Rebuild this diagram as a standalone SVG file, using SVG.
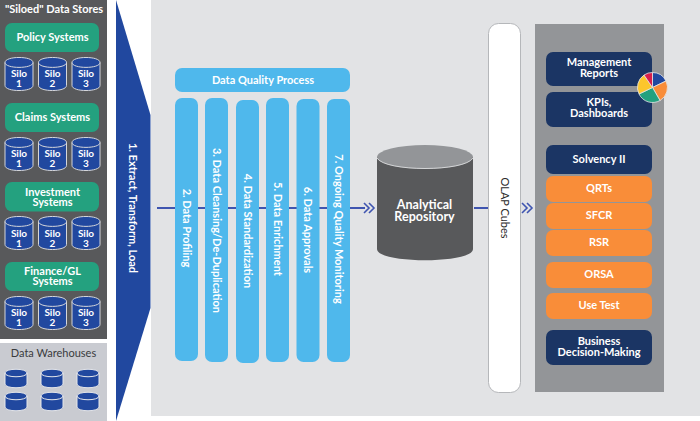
<svg xmlns="http://www.w3.org/2000/svg" width="700" height="421" viewBox="0 0 700 421">
<style>
text{font-family:Lato,"Noto Sans","Liberation Sans",sans-serif;font-weight:700;fill:#fff;text-anchor:middle}
.s{font-size:10px}.m{font-size:11px}
.gr{fill:#24a17f}.cy{fill:#4fb8ec}.nv{fill:#1b3564}.or{fill:#f98d39}
.sil{fill:#21489f;stroke:#d5d6da;stroke-width:1}
.wh{fill:#21489f;stroke:#e6e7ea;stroke-width:1}
.ln{stroke:#3f55b0;stroke-width:2;fill:none}
.ch{stroke:#3f55b0;stroke-width:1.6;fill:none}
</style>
<defs>
<g id="silo"><path class="sil" d="M0 5.500C0 -1.200 28 -1.200 28 5.500V28.500C28 35.200 0 35.200 0 28.500Z"/><path class="sil" style="fill:none" d="M0 5.500C0 12 28 12 28 5.500"/></g>
<g id="wh"><path class="wh" d="M0 4C0 -1 22 -1 22 4V15C22 20 0 20 0 15Z"/><path class="wh" style="fill:none" d="M0 4C0 9 22 9 22 4"/></g>
<g id="chev"><path class="ch" d="M0 -5L5 0L0 5M5 -5L10 0L5 5"/></g>
</defs>
<rect id="bg-main" x="151" y="0" width="549" height="416" fill="#e2e3e5"/>
<g id="siloed-panel">
<rect x="0" y="0" width="107" height="339" fill="#58595b"/>
<text x="54" y="13" class="m">"Siloed" Data Stores</text>
</g>
<g id="policy"><rect class="gr" x="5" y="23" width="94" height="29" rx="7"/><text x="52.500" y="40.500" class="m">Policy Systems</text></g>
<g id="claims"><rect class="gr" x="5" y="103" width="94" height="29" rx="7"/><text x="52.500" y="120.500" class="m">Claims Systems</text></g>
<g id="investment"><rect class="gr" x="5" y="182" width="94" height="29.500" rx="7"/><text x="52.500" y="195.500" class="m">Investment</text><text x="52.500" y="205.500" class="m">Systems</text></g>
<g id="finance"><rect class="gr" x="5" y="262" width="94" height="29" rx="7"/><text x="52.500" y="275" class="m">Finance/GL</text><text x="52.500" y="284.500" class="m">Systems</text></g>
<g id="silos-policy">
<use href="#silo" x="5" y="57"/><use href="#silo" x="38.500" y="57"/><use href="#silo" x="72" y="57"/>
<text x="19" y="77" class="s">Silo</text><text x="19" y="87" class="s">1</text><text x="52.500" y="77" class="s">Silo</text><text x="52.500" y="87" class="s">2</text><text x="86" y="77" class="s">Silo</text><text x="86" y="87" class="s">3</text>
</g>
<g id="silos-claims">
<use href="#silo" x="5" y="137"/><use href="#silo" x="38.500" y="137"/><use href="#silo" x="72" y="137"/>
<text x="19" y="157" class="s">Silo</text><text x="19" y="167" class="s">1</text><text x="52.500" y="157" class="s">Silo</text><text x="52.500" y="167" class="s">2</text><text x="86" y="157" class="s">Silo</text><text x="86" y="167" class="s">3</text>
</g>
<g id="silos-investment">
<use href="#silo" x="5" y="216"/><use href="#silo" x="38.500" y="216"/><use href="#silo" x="72" y="216"/>
<text x="19" y="237" class="s">Silo</text><text x="19" y="247" class="s">1</text><text x="52.500" y="237" class="s">Silo</text><text x="52.500" y="247" class="s">2</text><text x="86" y="237" class="s">Silo</text><text x="86" y="247" class="s">3</text>
</g>
<g id="silos-finance">
<use href="#silo" x="5" y="296"/><use href="#silo" x="38.500" y="296"/><use href="#silo" x="72" y="296"/>
<text x="19" y="316" class="s">Silo</text><text x="19" y="326" class="s">1</text><text x="52.500" y="316" class="s">Silo</text><text x="52.500" y="326" class="s">2</text><text x="86" y="316" class="s">Silo</text><text x="86" y="326" class="s">3</text>
</g>
<g id="warehouses">
<rect x="0" y="343" width="107" height="78" fill="#c9cbd1"/>
<text x="53.500" y="357" class="m" style="fill:#3a3b3d;font-weight:400">Data Warehouses</text>
<use href="#wh" x="5" y="369"/><use href="#wh" x="41" y="369"/><use href="#wh" x="77" y="369"/>
<use href="#wh" x="5" y="392"/><use href="#wh" x="41" y="392"/><use href="#wh" x="77" y="392"/>
</g>
<g id="connectors">
<path class="ln" d="M157 208H365"/>
<use href="#chev" x="364" y="208"/>
<path class="ln" d="M474 208H488"/>
<use href="#chev" x="522" y="208"/>
</g>
<g id="etl">
<path d="M116 0L150.500 115V308L116 421Z" fill="#21489f"/>
<text transform="translate(129 208) rotate(90)" class="m">1. Extract, Transform, Load</text>
</g>
<g id="dq-header"><rect class="cy" x="175" y="68" width="175" height="24" rx="7"/><text x="263" y="84" class="m">Data Quality Process</text></g>
<g id="step2"><rect class="cy" x="175" y="98" width="23" height="263" rx="7"/><text transform="translate(183 228) rotate(90)" class="m">2. Data Profiling</text></g>
<g id="step3"><rect class="cy" x="205" y="98" width="23" height="264" rx="7"/><text transform="translate(213 230.500) rotate(90)" class="m">3. Data Cleansing/De-Duplication</text></g>
<g id="step4"><rect class="cy" x="236" y="100" width="23" height="263" rx="7"/><text transform="translate(243.500 231) rotate(90)" class="m">4. Data Standardization</text></g>
<g id="step5"><rect class="cy" x="266" y="98" width="23" height="264" rx="7"/><text transform="translate(273.500 229) rotate(90)" class="m">5. Data Enrichment</text></g>
<g id="step6"><rect class="cy" x="296.500" y="99" width="23" height="263" rx="7"/><text transform="translate(304 230) rotate(90)" class="m">6. Data Approvals</text></g>
<g id="step7"><rect class="cy" x="327" y="99" width="23" height="263" rx="7"/><text transform="translate(334.500 229) rotate(90)" class="m">7. Ongoing Quality Monitoring</text></g>
<g id="repository">
<path d="M377 157V249C377 264 473 264 473 249V157Z" fill="#58595b"/>
<ellipse cx="425" cy="157" rx="48" ry="12" fill="#939598"/>
<path d="M377 158C385 172 465 172 473 158" fill="none" stroke="#e6e7e8" stroke-width="0.8"/>
<text x="424.500" y="209" font-size="12.500">Analytical</text><text x="424.500" y="221" font-size="12.500">Repository</text>
</g>
<g id="olap"><rect x="488.500" y="23.500" width="32" height="369" rx="10" fill="#fff" stroke="#b5b7ba"/><text transform="translate(500.500 208) rotate(90)" class="m" style="fill:#2b2b2b;font-weight:400">OLAP Cubes</text></g>
<rect id="right-panel" x="535" y="24" width="129" height="368" fill="#939598"/>
<g id="mgmt"><rect class="nv" x="546" y="52" width="106" height="34" rx="7"/><text x="599" y="66" class="m">Management</text><text x="599" y="77" class="m">Reports</text></g>
<g id="kpi"><rect class="nv" x="546" y="92" width="106" height="35" rx="7"/><text x="599" y="106" class="m">KPIs,</text><text x="599" y="117" class="m">Dashboards</text></g>
<g id="solvency"><rect class="nv" x="546" y="145" width="106" height="29" rx="7"/><text x="599" y="162.500" class="m">Solvency II</text></g>
<g id="qrt"><rect class="or" x="546" y="176" width="106" height="26" rx="7"/><text x="599" y="191.500" class="m">QRTs</text></g>
<g id="sfcr"><rect class="or" x="546" y="203" width="106" height="26" rx="7"/><text x="599" y="219" class="m">SFCR</text></g>
<g id="rsr"><rect class="or" x="546" y="230" width="106" height="26" rx="7"/><text x="599" y="246" class="m">RSR</text></g>
<g id="orsa"><rect class="or" x="546" y="262" width="106" height="26" rx="7"/><text x="599" y="278" class="m">ORSA</text></g>
<g id="usetest"><rect class="or" x="546" y="293" width="106" height="26" rx="7"/><text x="599" y="309" class="m">Use Test</text></g>
<g id="business"><rect class="nv" x="546" y="330" width="106" height="35" rx="7"/><text x="599" y="345" class="m">Business</text><text x="599" y="356" class="m">Decision-Making</text></g>
<g id="pie" stroke="#e6e7ea" stroke-width="0.8">
<path d="M652.500 87.500V72.500A15 15 0 0 1 666 81Z" fill="#21489f"/>
<path d="M652.500 87.500L666 81A15 15 0 0 1 660 100.500Z" fill="#f98d39"/>
<path d="M652.500 87.500L660 100.500A15 15 0 0 1 639 94Z" fill="#24a17f"/>
<path d="M652.500 87.500L639 94A15 15 0 0 1 644 75Z" fill="#fcc62d"/>
<path d="M652.500 87.500L644 75A15 15 0 0 1 652.500 72.500Z" fill="#d81f4b"/>
</g>
</svg>
